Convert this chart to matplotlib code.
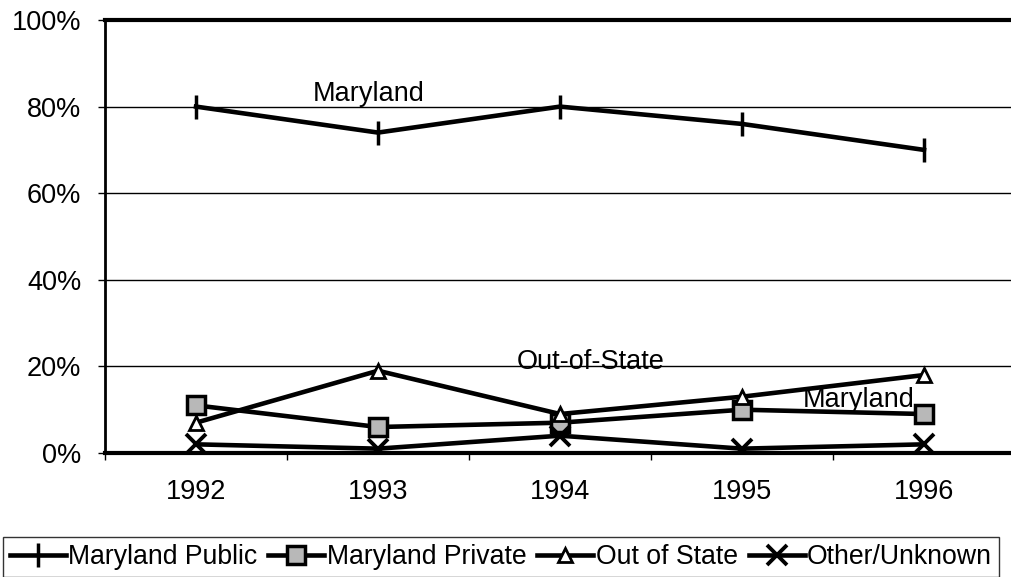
import numpy as np
import matplotlib
matplotlib.use('Agg')
import matplotlib.pyplot as plt
from matplotlib.ticker import FixedLocator, FuncFormatter

plt.rcParams['font.family'] = ['Liberation Sans', 'DejaVu Sans']

# data (percent of students)
years = ['1992', '1993', '1994', '1995', '1996']
md_public = [80, 74, 80, 76, 70]
md_private = [11, 6, 7, 10, 9]
out_of_state = [7, 19, 9, 13, 18]
other_unknown = [2, 1, 4, 1, 2]

fs = 19.5
fig = plt.figure(figsize=(10.11, 5.77), dpi=100)
ax = fig.add_axes([105 / 1011, 1 - 453 / 577, 910 / 1011, 433 / 577])

x = np.arange(len(years))
lw = 3.3
ax.plot(x, md_public, color='black', lw=lw, marker='|', ms=17, mew=2.5,
        label='Maryland Public', zorder=3)
ax.plot(x, md_private, color='black', lw=lw, marker='s', ms=13, mew=2.5,
        mfc='#b8b8b8', mec='black', label='Maryland Private', zorder=4)
ax.plot(x, out_of_state, color='black', lw=lw, marker='^', ms=10, mew=2,
        mfc='white', mec='black', label='Out of State', zorder=4)
ax.plot(x, other_unknown, color='black', lw=lw, marker='x', ms=15, mew=2.8,
        label='Other/Unknown', zorder=4)

# labels on the plot
ax.text(0.95, 83, 'Maryland', fontsize=fs, ha='center', va='center')
ax.text(2.17, 21.0, 'Out-of-State', fontsize=fs, ha='center', va='center')
ax.text(3.64, 12.2, 'Maryland', fontsize=fs, ha='center', va='center')

ax.set_xlim(-0.5, 4.5)
ax.set_ylim(0, 100)
ax.set_yticks([0, 20, 40, 60, 80, 100])
ax.yaxis.set_major_formatter(FuncFormatter(lambda v, p: '%d%%' % v))
ax.yaxis.grid(True, color='black', lw=1)
ax.set_axisbelow(True)
ax.set_xticks(x)
ax.set_xticklabels(years)
ax.xaxis.set_minor_locator(FixedLocator(np.arange(-0.5, 5, 1)))
ax.tick_params(axis='x', which='major', length=0, pad=19, labelsize=fs)
ax.tick_params(axis='x', which='minor', length=5, width=1, direction='out')
ax.tick_params(axis='y', length=5, width=1, pad=12, labelsize=fs)

ax.spines['right'].set_visible(False)
ax.spines['top'].set_linewidth(3)
ax.spines['left'].set_linewidth(2)
ax.spines['bottom'].set_linewidth(3)

leg = fig.legend(loc='center left', bbox_to_anchor=(0.003, 1 - 557 / 577),
                 ncol=4, fontsize=19.2, frameon=True, fancybox=False,
                 handlelength=2.1, handletextpad=0.1, columnspacing=0.4,
                 borderpad=0.25, borderaxespad=0)
leg.get_frame().set_edgecolor('black')
leg.get_frame().set_linewidth(1)

fig.savefig('out.png', dpi=100)
